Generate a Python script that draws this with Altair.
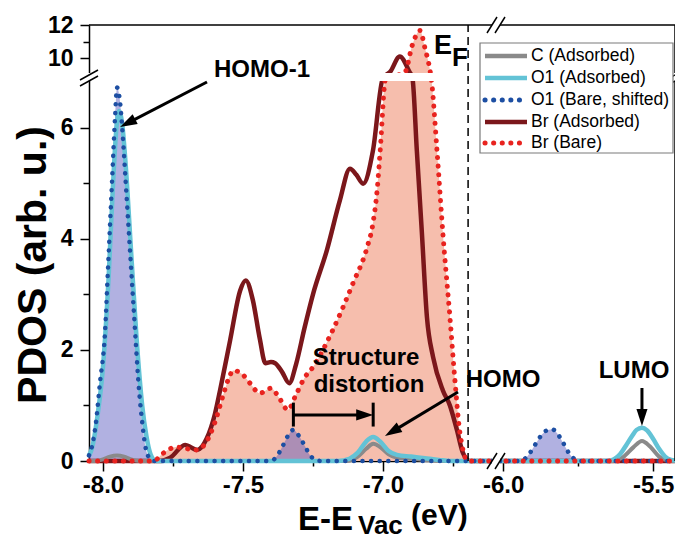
import math
import altair as alt
import pandas as pd

# ---------------- values (E in eV, PDOS in arb. u.) ----------------
c_ads_x = [-8.05, -8.03, -8.00, -7.975, -7.95, -7.925, -7.90, -7.87,
           -7.13, -7.09, -7.06, -7.035, -7.01, -6.98, -6.95, -6.90, -6.85, -6.80,
           -5.63, -5.60, -5.565, -5.537, -5.51, -5.48, -5.45, -5.427]
c_ads_y = [0, 0, 0.03, 0.08, 0.10, 0.08, 0.03, 0,
           0, 0.08, 0.22, 0.31, 0.25, 0.12, 0.06, 0.04, 0.02, 0,
           0, 0.07, 0.25, 0.36, 0.26, 0.08, 0.01, 0]

o1_ads_x = [-8.05, -8.04, -8.02, -8.00, -7.98, -7.965, -7.952, -7.943, -7.93, -7.92, -7.90,
            -7.88, -7.86, -7.845, -7.83, -7.81,
            -7.16, -7.12, -7.09, -7.06, -7.035, -7.01, -6.98, -6.95, -6.90, -6.85, -6.80, -6.76,
            -5.65, -5.63, -5.61, -5.59, -5.57, -5.555, -5.537, -5.52, -5.50, -5.48, -5.46, -5.44, -5.427]
o1_ads_y = [0.1, 0.22, 0.8, 1.7, 3.3, 4.9, 6.0, 6.3, 6.0, 5.4, 3.8,
            2.2, 1.0, 0.45, 0.12, 0,
            0, 0.04, 0.15, 0.35, 0.43, 0.35, 0.18, 0.11, 0.08, 0.05, 0.02, 0,
            0, 0.03, 0.12, 0.28, 0.45, 0.56, 0.6, 0.55, 0.4, 0.22, 0.08, 0.02, 0.01]

o1_bare_x = [-8.05, -8.04, -8.025, -8.011, -7.993, -7.982, -7.968, -7.957, -7.95, -7.94, -7.93,
             -7.92, -7.91, -7.90, -7.89, -7.87, -7.86, -7.85, -7.84, -7.82,
             -7.40, -7.38, -7.36, -7.34, -7.32, -7.30, -7.28, -7.26, -7.24, -7.22,
             -6.02, -5.95, -5.93, -5.91, -5.89, -5.87, -5.85, -5.835, -5.82, -5.80, -5.78,
             -5.76, -5.74, -5.427]
o1_bare_y = [0.1, 0.25, 0.7, 1.4, 2.3, 3.48, 5.0, 6.18, 6.72, 6.5, 5.9,
             5.1, 4.3, 3.5, 2.7, 1.2, 0.7, 0.3, 0.1, 0,
             0, 0.08, 0.25, 0.45, 0.56, 0.45, 0.28, 0.1, 0.02, 0,
             0, 0, 0.03, 0.15, 0.32, 0.48, 0.56, 0.57, 0.5, 0.33, 0.14,
             0.03, 0, 0]

br_ads_x = [-8.05, -7.80, -7.76, -7.707, -7.664, -7.63, -7.60, -7.582, -7.546, -7.51, -7.49,
            -7.465, -7.44, -7.42, -7.40, -7.385, -7.36, -7.335, -7.31, -7.28, -7.25, -7.20,
            -7.154, -7.118, -7.095, -7.071, -7.036, -7.00, -6.975, -6.94, -6.905, -6.895,
            -6.879, -6.861, -6.843, -6.821, -6.786, -6.761, -6.736, -6.714, -6.69,
            -6.02, -5.427]
br_ads_y = [0, 0, 0.06, 0.29, 0.2, 0.4, 0.85, 1.27, 2.17, 3.07, 3.25,
            2.9, 2.2, 1.76, 1.78, 1.76, 1.6, 1.4, 1.75, 2.4, 3.0, 3.8,
            4.69, 5.26, 5.15, 4.99, 5.58, 6.9, 9.16, 10.1, 9.16, 6.9,
            5.58, 4.1, 2.59, 1.87, 1.27, 1.0, 0.56, 0.14, 0,
            0, 0]

br_bare_x = [-8.05, -7.82, -7.785, -7.74, -7.70, -7.665, -7.63, -7.60, -7.57, -7.55, -7.535,
             -7.50, -7.475, -7.44, -7.40, -7.37, -7.34, -7.31, -7.28, -7.25, -7.18, -7.107,
             -7.057, -7.036, -7.02, -7.01, -6.99, -6.95, -6.922, -6.895, -6.868, -6.85, -6.832,
             -6.828, -6.807, -6.786, -6.761, -6.743, -6.725, -6.696,
             -6.02, -5.427]
br_bare_y = [0, 0, 0.14, 0.25, 0.22, 0.2, 0.35, 0.7, 1.2, 1.5, 1.63,
             1.55, 1.4, 1.22, 1.31, 1.13, 0.92, 1.2, 1.5, 1.69, 2.35, 3.2,
             3.84, 4.27, 4.92, 5.58, 6.9, 8.0, 9.14, 10.8, 11.67, 10.6, 9.26,
             6.9, 5.58, 4.09, 2.59, 1.45, 0.5, 0,
             0, 0]

x_major = [-8.0, -7.5, -7.0, -6.0, -5.5]
x_minor = [-7.75, -7.25, -6.75, -5.75]
y_major = [0, 2, 4, 6, 10, 12]
y_minor = [1, 3, 5, 11]

legend_labels = ["C (Adsorbed)", "O1 (Adsorbed)", "O1 (Bare, shifted)", "Br (Adsorbed)", "Br (Bare)"]

E_FERMI = -6.696
HOMO1_E, HOMO_E, LUMO_E, O1_SHIFT_E = -7.95, -7.035, -5.537, -7.32

# ---------------- broken-axis mapping ----------------
W, H = 586, 436
U0, U1 = -8.05, -5.957
XL_END, XR_START, R_SCALE = -6.60, -6.027, 300 / 280
Y_LOW_TOP, Y_UP_BOT, V_UP_BOT, UP_SCALE = 6.93, 9.0, 6.951, 0.2985
V1 = V_UP_BOT + (12 - Y_UP_BOT) * UP_SCALE
KU = W / (U1 - U0)
KV = H / V1


def ux(x):
    return x if x <= XL_END else XL_END + (x - XR_START) * R_SCALE


def vy(y):
    if y <= Y_LOW_TOP:
        return y
    if y >= Y_UP_BOT:
        return V_UP_BOT + (y - Y_UP_BOT) * UP_SCALE
    return Y_LOW_TOP + (y - Y_LOW_TOP) / (Y_UP_BOT - Y_LOW_TOP) * (V_UP_BOT - Y_LOW_TOP)


def pu(page_x):  # page pixel -> axis unit (for annotation placement)
    return U0 + (page_x - 89) / KU


def pv(page_y):
    return V1 - (page_y - 25) / KV


def sdf(xs, ys):
    return pd.DataFrame({"u": [ux(x) for x in xs], "v": [vy(y) for y in ys]})


FONT = "Liberation Sans"
GRAY, CYAN, BLUE, DKRED, RED = "#8a8a8a", "#63c3d6", "#1d4fa3", "#7b171b", "#e8231f"
PINK, LAV = "#f6bead", "#5a5ac0"

# ---------------- axes ----------------
xvals = [ux(v) for v in x_major + x_minor]
xlab = " : ".join(f"abs(datum.value - ({ux(v)})) < 0.001 ? '{v:.1f}'" for v in x_major) + " : ''"
xtest = " || ".join(f"abs(datum.value - ({ux(v)})) < 0.001" for v in x_major)
yvals = [vy(v) for v in y_major + y_minor]
ylab = " : ".join(f"abs(datum.value - ({vy(v)})) < 0.001 ? '{v}'" for v in y_major) + " : ''"
ytest = " || ".join(f"abs(datum.value - ({vy(v)})) < 0.001" for v in y_major)

xaxis = alt.Axis(values=xvals, labelExpr=xlab, title=None, grid=False,
                 tickSize={"condition": {"test": xtest, "value": 10}, "value": 5},
                 tickWidth=1.5, tickColor="black", domainColor="black", domainWidth=1.5,
                 labelFont=FONT, labelFontSize=24, labelFontWeight="bold", labelColor="black",
                 labelPadding=2, labelFlush=False, labelOverlap=False)
yaxis = alt.Axis(values=yvals, labelExpr=ylab, title=None, grid=False,
                 tickSize={"condition": {"test": ytest, "value": 9}, "value": 6},
                 tickWidth=1.5, tickColor="black", domainColor="black", domainWidth=1.5,
                 labelFont=FONT, labelFontSize=23, labelFontWeight="bold", labelColor="black",
                 labelPadding=7, labelFlush=False, labelOverlap=False)
xs = alt.Scale(domain=[U0, U1], nice=False, zero=False)
ys = alt.Scale(domain=[0, V1], nice=False, zero=False)


def X(f="u"):
    return alt.X(f"{f}:Q", scale=xs, axis=xaxis, title=None)


def Y(f="v"):
    return alt.Y(f"{f}:Q", scale=ys, axis=yaxis, title=None)


layers = []
# fills
layers.append(alt.Chart(sdf(br_bare_x, br_bare_y)).mark_area(interpolate="monotone", color=PINK)
              .encode(x=X(), y=Y()))
layers.append(alt.Chart(sdf(o1_bare_x, o1_bare_y)).mark_area(interpolate="monotone", color=LAV, opacity=0.47)
              .encode(x=X(), y=Y()))
# lines
layers.append(alt.Chart(sdf(br_ads_x, br_ads_y)).mark_line(interpolate="monotone", color=DKRED, strokeWidth=4.5)
              .encode(x=X(), y=Y()))
layers.append(alt.Chart(sdf(c_ads_x, c_ads_y)).mark_line(interpolate="monotone", color=GRAY, strokeWidth=4)
              .encode(x=X(), y=Y()))
layers.append(alt.Chart(sdf(o1_ads_x, o1_ads_y)).mark_line(interpolate="monotone", color=CYAN, strokeWidth=4.5)
              .encode(x=X(), y=Y()))
layers.append(alt.Chart(sdf(o1_bare_x, o1_bare_y)).mark_line(interpolate="monotone", color=BLUE, strokeWidth=4.5,
                                                            strokeDash=[0.1, 8.5], strokeCap="round")
              .encode(x=X(), y=Y()))
layers.append(alt.Chart(sdf(br_bare_x, br_bare_y)).mark_line(interpolate="monotone", color=RED, strokeWidth=5,
                                                            strokeDash=[0.1, 8.5], strokeCap="round")
              .encode(x=X(), y=Y()))

# frame (top and right)
frame = pd.DataFrame({"u": [U0, U1], "u2": [U1, U1], "v": [V1, 0], "v2": [V1, V1]})
layers.append(alt.Chart(frame).mark_rule(color="black", strokeWidth=1.5)
              .encode(x=X(), x2="u2:Q", y=Y(), y2="v2:Q"))

# white gaps for the axis breaks
gaps = pd.DataFrame({
    "u": [pu(85), pu(492), pu(492)],
    "u2": [pu(680), pu(500), pu(500)],
    "v": [pv(73), pv(21), pv(458)],
    "v2": [pv(81), pv(29), pv(465)],
})
layers.append(alt.Chart(gaps).mark_rect(color="white").encode(x=X(), x2="u2:Q", y=Y(), y2="v2:Q"))

# break slashes
sl = []
for cx in (89, 675):
    for off in (-3, 3):
        sl.append((pu(cx - 9), pv(78 + 5 + off), pu(cx + 9), pv(78 - 5 + off)))
for cy in (25, 461):
    for off in (-4, 4):
        sl.append((pu(496 - 5 + off), pv(cy + 8), pu(496 + 5 + off), pv(cy - 8)))
sldf = pd.DataFrame(sl, columns=["u", "v", "u2", "v2"])
layers.append(alt.Chart(sldf).mark_rule(color="black", strokeWidth=1.5)
              .encode(x=X(), y=Y(), x2="u2:Q", y2="v2:Q"))

# Fermi level
ef = pd.DataFrame({"u": [ux(E_FERMI)], "v": [0], "v2": [V1]})
layers.append(alt.Chart(ef).mark_rule(color="black", strokeWidth=1.5, strokeDash=[8, 5])
              .encode(x=X(), y=Y(), y2="v2:Q"))

# arrows
arrows = [
    ((pu(207), pv(82)), (ux(HOMO1_E) + 0.011, pv(127))),
    ((ux(O1_SHIFT_E), 0.83), (ux(HOMO_E), 0.83)),
    ((pu(458), pv(392)), (ux(HOMO_E) + 0.042, 0.45)),
    ((ux(LUMO_E), pv(388)), (ux(LUMO_E), 0.63)),
]
HEAD = 17
segs, heads = [], []
for (u1, v1), (u2, v2) in arrows:
    dx, dy = (u2 - u1) * KU, -(v2 - v1) * KV
    L = math.hypot(dx, dy)
    ex, ey = dx / L, dy / L
    cu = u2 - ex * HEAD / 2 / KU
    cv = v2 + ey * HEAD / 2 / KV
    segs.append((u1, v1, cu, cv))
    ang = math.degrees(math.atan2(ex, -ey)) % 360
    heads.append((cu, cv, ang))
# distortion end bars
bars = [(ux(O1_SHIFT_E), 0.62, ux(O1_SHIFT_E), 1.05), (ux(HOMO_E), 0.62, ux(HOMO_E), 1.05)]
segdf = pd.DataFrame(segs + bars, columns=["u", "v", "u2", "v2"])
layers.append(alt.Chart(segdf).mark_rule(color="black", strokeWidth=3)
              .encode(x=X(), y=Y(), x2="u2:Q", y2="v2:Q"))
headdf = pd.DataFrame(heads, columns=["u", "v", "ang"])
layers.append(alt.Chart(headdf).mark_point(shape="M0,-1L0.65,1L-0.65,1Z", filled=True, color="black",
                                           opacity=1, size=HEAD * HEAD, strokeWidth=0)
              .encode(x=X(), y=Y(), angle=alt.Angle("ang:Q", scale=None)))

# annotation texts
ann = pd.DataFrame({
    "t": ["HOMO-1", "Structure", "distortion", "HOMO", "LUMO", "E", "F"],
    "u": [pu(262), pu(366), pu(369), pu(503), pu(634), pu(443), pu(460)],
    "v": [pv(70), pv(358), pv(385), pv(380), pv(371), pv(46), pv(58)],
    "fs": [24, 24, 24, 24, 24, 27, 26],
})
layers.append(alt.Chart(ann).mark_text(font=FONT, fontWeight="bold", color="black", baseline="middle", align="center")
              .encode(x=X(), y=Y(), text="t:N", size=alt.Size("fs:Q", scale=None)))

# legend
leg_rows = [pv(56), pv(78), pv(100), pv(122), pv(143)]
legbox = pd.DataFrame({"u": [pu(480)], "u2": [pu(673)], "v": [pv(43)], "v2": [pv(153)]})
layers.append(alt.Chart(legbox).mark_rect(fill="white", stroke="#7a7a7a", strokeWidth=1.2)
              .encode(x=X(), x2="u2:Q", y=Y(), y2="v2:Q"))
leg = pd.DataFrame({"lab": legend_labels, "col": [GRAY, CYAN, BLUE, DKRED, RED],
                    "dotted": [False, False, True, False, True], "v": leg_rows,
                    "u": [pu(485)] * 5, "u2": [pu(527)] * 5, "ut": [pu(531)] * 5})
layers.append(alt.Chart(leg[~leg["dotted"]]).mark_rule(strokeWidth=4.5)
              .encode(x=X(), x2="u2:Q", y=Y(), color=alt.Color("col:N", scale=None)))
layers.append(alt.Chart(leg[leg["dotted"]]).mark_rule(strokeWidth=5, strokeDash=[0.1, 8.5], strokeCap="round")
              .encode(x=X(), x2="u2:Q", y=Y(), color=alt.Color("col:N", scale=None)))
layers.append(alt.Chart(leg).mark_text(font=FONT, fontSize=17.5, color="black", align="left", baseline="middle")
              .encode(x=X("ut"), y=Y(), text="lab:N"))

# axis titles (as text so that the subscript can be drawn)
one = pd.DataFrame({"a": [0]})
layers.append(alt.Chart(one).mark_text(font=FONT, fontWeight="bold", fontSize=41, angle=270, color="black",
                                       align="center", baseline="middle")
              .encode(x=alt.value(-55), y=alt.value(240), text=alt.value("PDOS (arb. u.)")))
layers.append(alt.Chart(one).mark_text(font=FONT, fontWeight="bold", fontSize=33, color="black",
                                       align="left", baseline="alphabetic")
              .encode(x=alt.value(209), y=alt.value(505), text=alt.value("E-E")))
layers.append(alt.Chart(one).mark_text(font=FONT, fontWeight="bold", fontSize=26, color="black",
                                       align="left", baseline="alphabetic")
              .encode(x=alt.value(269), y=alt.value(509), text=alt.value("Vac")))
layers.append(alt.Chart(one).mark_text(font=FONT, fontWeight="bold", fontSize=30, color="black",
                                       align="left", baseline="alphabetic")
              .encode(x=alt.value(322), y=alt.value(500), text=alt.value("(eV)")))

chart = alt.layer(*layers).properties(
    width=W, height=H,
    autosize=alt.AutoSizeParams(type="none"),
    padding={"left": 81, "top": 17, "right": 0, "bottom": 80},
    background="white",
).configure_view(stroke=None)

chart.save("out.html", embed_options={"renderer": "svg", "actions": False})
